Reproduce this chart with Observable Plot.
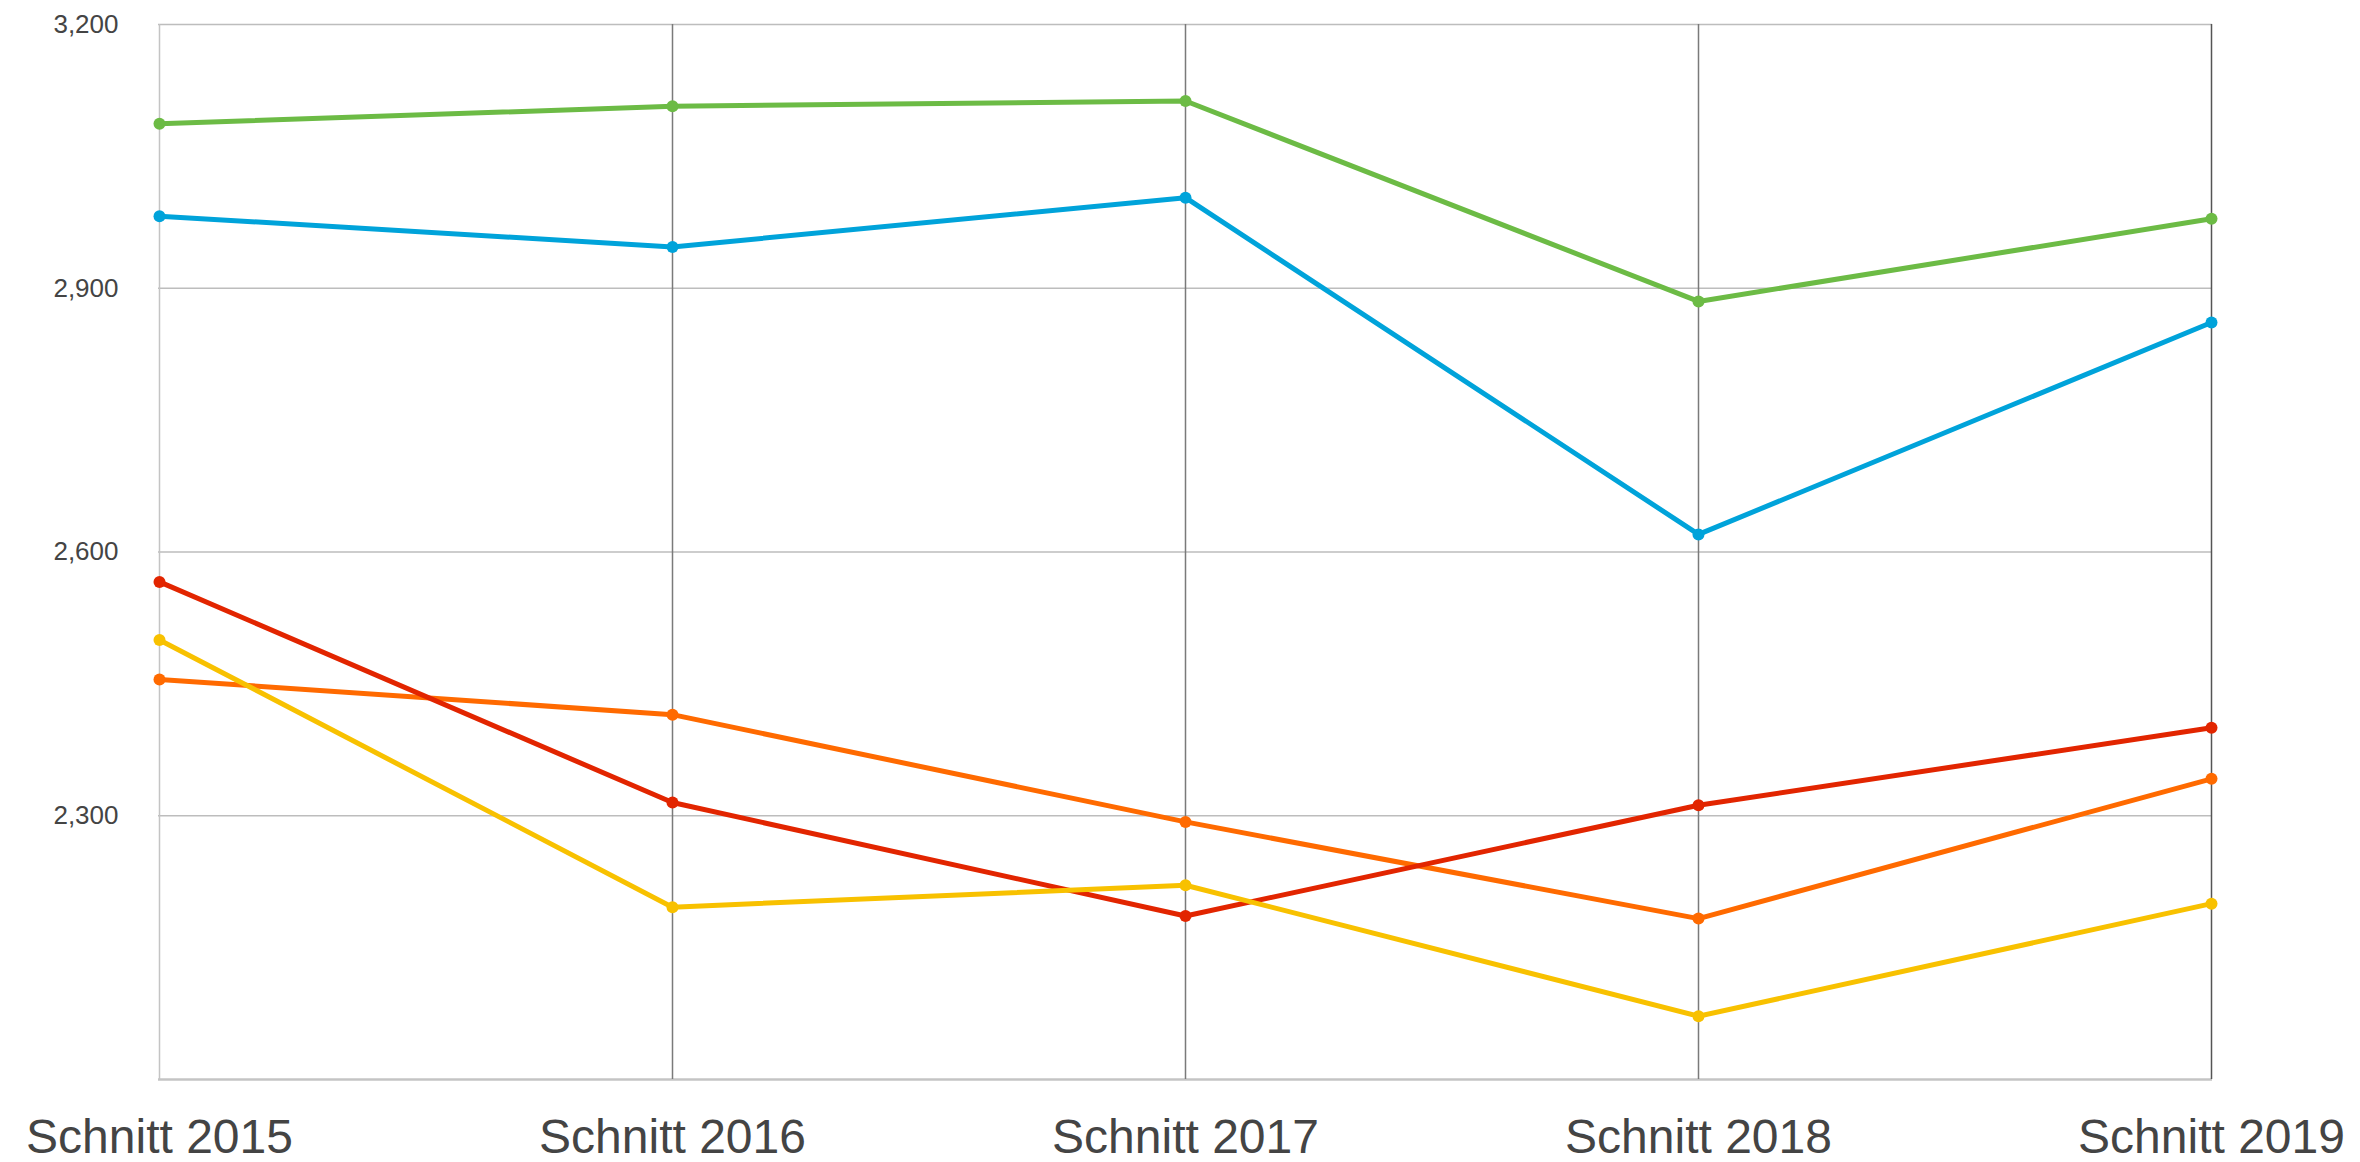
<!DOCTYPE html>
<html>
<head>
<meta charset="utf-8">
<script src="https://cdn.jsdelivr.net/npm/d3@7"></script>
<script src="https://cdn.jsdelivr.net/npm/@observablehq/plot@0.6"></script>
<style>
  html, body { margin: 0; padding: 0; background: #fff; }
  #chart svg { display: block; }
</style>
</head>
<body>
<div id="chart"></div>
<script>
const categories = ["Schnitt 2015", "Schnitt 2016", "Schnitt 2017", "Schnitt 2018", "Schnitt 2019"];
const seriesNames = ["Grün", "Blau", "Orange", "Rot", "Gelb"];
const seriesColors = ["#6cbb45", "#00a3da", "#ff6a00", "#e22500", "#f8c100"];
const greenValues  = [3087, 3107, 3113, 2885, 2979];
const blueValues   = [2982, 2947, 3003, 2620, 2861];
const orangeValues = [2455, 2415, 2293, 2183, 2342];
const redValues    = [2566, 2315, 2186, 2312, 2400];
const yellowValues = [2500, 2196, 2221, 2072, 2200];
const yTicks = [2300, 2600, 2900, 3200];
const yDomain = [2000, 3200];

const allValues = [greenValues, blueValues, orangeValues, redValues, yellowValues];
const data = [];
seriesNames.forEach((s, i) => {
  categories.forEach((c, j) => data.push({series: s, cat: c, value: allValues[i][j]}));
});

const innerCats = categories.slice(1, categories.length - 1);
const lastCat = categories[categories.length - 1];

const chart = Plot.plot({
  width: 2360,
  height: 1162,
  marginLeft: 158,
  marginRight: 148,
  marginTop: 24,
  marginBottom: 83,
  style: {fontFamily: "'Liberation Sans', Arial, Helvetica, sans-serif", color: "#444", background: "#fff"},
  x: {type: "point", domain: categories, padding: 0, label: null},
  y: {domain: yDomain, label: null},
  color: {domain: seriesNames, range: seriesColors},
  marks: [
    Plot.ruleY(yTicks, {stroke: "#bdbdbd", strokeWidth: 1.5}),
    Plot.ruleY([yDomain[0]], {stroke: "#c4c4c4", strokeWidth: 2.5}),
    Plot.ruleX([categories[0]], {stroke: "#c4c4c4", strokeWidth: 1.5}),
    Plot.ruleX(innerCats, {stroke: "#7a7a7a", strokeWidth: 1.5}),
    Plot.ruleX([lastCat], {stroke: "#555", strokeWidth: 1.5}),
    Plot.axisY({ticks: yTicks, tickFormat: d3.format(",d"), tickSize: 0, tickPadding: 40, fontSize: 26, label: null}),
    Plot.axisX({tickSize: 0, tickPadding: 39, fontSize: 48, label: null}),
    Plot.line(data, {x: "cat", y: "value", z: "series", stroke: "series", strokeWidth: 5, strokeLinejoin: "miter"}),
    Plot.dot(data, {x: "cat", y: "value", fill: "series", r: 6, stroke: null})
  ]
});
document.getElementById("chart").append(chart);
</script>
</body>
</html>
